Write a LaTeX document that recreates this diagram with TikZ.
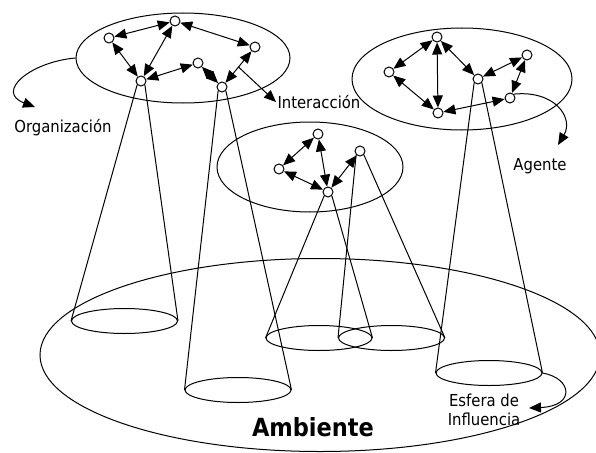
\documentclass[tikz,border=0pt]{standalone}
\usepackage{fontspec}
\setmainfont{DejaVu Sans Condensed}
\usetikzlibrary{arrows.meta,shapes.geometric}
\begin{document}
\begin{tikzpicture}[x=1pt,y=-1pt,line width=1pt,
  agent/.style={circle,draw,fill=white,minimum size=10pt,inner sep=0pt},
  rel/.style={{Triangle[length=12pt,width=10pt]}-{Triangle[length=12pt,width=10pt]}},
  pointer/.style={-{Triangle[length=12pt,width=10pt]}},
  group/.style={ellipse,draw,inner sep=0pt},
  base/.style={ellipse,draw,minimum width=106pt,minimum height=25pt,inner sep=0pt},
  lbl/.style={font=\fontsize{16.5}{19.5}\selectfont,inner sep=1pt}]
\useasboundingbox (0,0) rectangle (596,452);
% groups and environment
\node[group,minimum width=214pt,minimum height=90pt] (org) at (183,58) {};
\node[group,minimum width=220pt,minimum height=102pt] (grpR) at (462,79) {};
\node[group,minimum width=186pt,minimum height=90pt] (grpM) at (310,167) {};
\node[group,minimum width=560pt,minimum height=193pt] (amb) at (320,355) {};
% spheres of influence
\node[base] (b1) at (124.5,321) {};
\node[base] (b2) at (238,390) {};
\node[base] (b3) at (319,338) {};
\node[base] (b4) at (391.5,338) {};
\node[base] (b5) at (489,373) {};
% agents
\node[agent] (A) at (175,21) {};
\node[agent] (B) at (109,38) {};
\node[agent] (C) at (255,47) {};
\node[agent] (D) at (198,63) {};
\node[agent] (E) at (141,81) {};
\node[agent] (F) at (222,87) {};
\node[agent] (G) at (437,37) {};
\node[agent] (H) at (389,72) {};
\node[agent] (I) at (527,55) {};
\node[agent] (J) at (478,79) {};
\node[agent] (K) at (510,98) {};
\node[agent] (L) at (438,113) {};
\node[agent] (M) at (318,134) {};
\node[agent] (N) at (279,169) {};
\node[agent] (O) at (360,151) {};
\node[agent] (P) at (328,192) {};
% cones
\draw (E.south west) -- (b1.west) (E.south east) -- (b1.east);
\draw (F.south west) -- (b2.west) (F.south east) -- (b2.east);
\draw (P.south west) -- (b3.west) (P.south east) -- (b3.east);
\draw (O.south west) -- (b4.west) (O.south east) -- (b4.east);
\draw (J.south west) -- (b5.west) (J.south east) -- (b5.east);
% interactions
\draw[rel] (B) -- (A);
\draw[rel] (A) -- (C);
\draw[rel] (B) -- (E);
\draw[rel] (E) -- (A);
\draw[rel] (E) -- (D);
\draw[rel] (D) -- (F);
\draw[rel] (F) -- (C);
\draw[rel] (G) -- (H);
\draw[rel] (G) -- (L);
\draw[rel] (G) -- (J);
\draw[rel] (H) -- (L);
\draw[rel] (L) -- (K);
\draw[rel] (K) -- (I);
\draw[rel] (J) -- (I);
\draw[rel] (M) -- (N);
\draw[rel] (M) -- (P);
\draw[rel] (N) -- (P);
\draw[rel] (O) -- (P);
% labels
\node[lbl,anchor=west] (inter) at (276,102) {Interacción};
\node[lbl] (orgl) at (63,128) {Organización};
\node[lbl] (agl) at (540,166) {Agente};
\node[lbl,align=center] (esf) at (484,410) {Esfera de\\Influencia};
\node[font=\fontsize{25}{29}\selectfont\bfseries] (ambl) at (313,427) {Ambiente};
% pointers
\path (F) -- (C) coordinate[pos=0.5] (fcmid);
\draw[pointer] (fcmid) -- (inter.west);
\draw[pointer] (org.west) .. controls (30,62) and (-5,92) .. (35,107);
\draw[pointer] (K.north east) .. controls (555,90) and (574,118) .. (558,145);
\draw[pointer] (b5.east) .. controls (572,378) and (576,406) .. (529,408);
\end{tikzpicture}
\end{document}
